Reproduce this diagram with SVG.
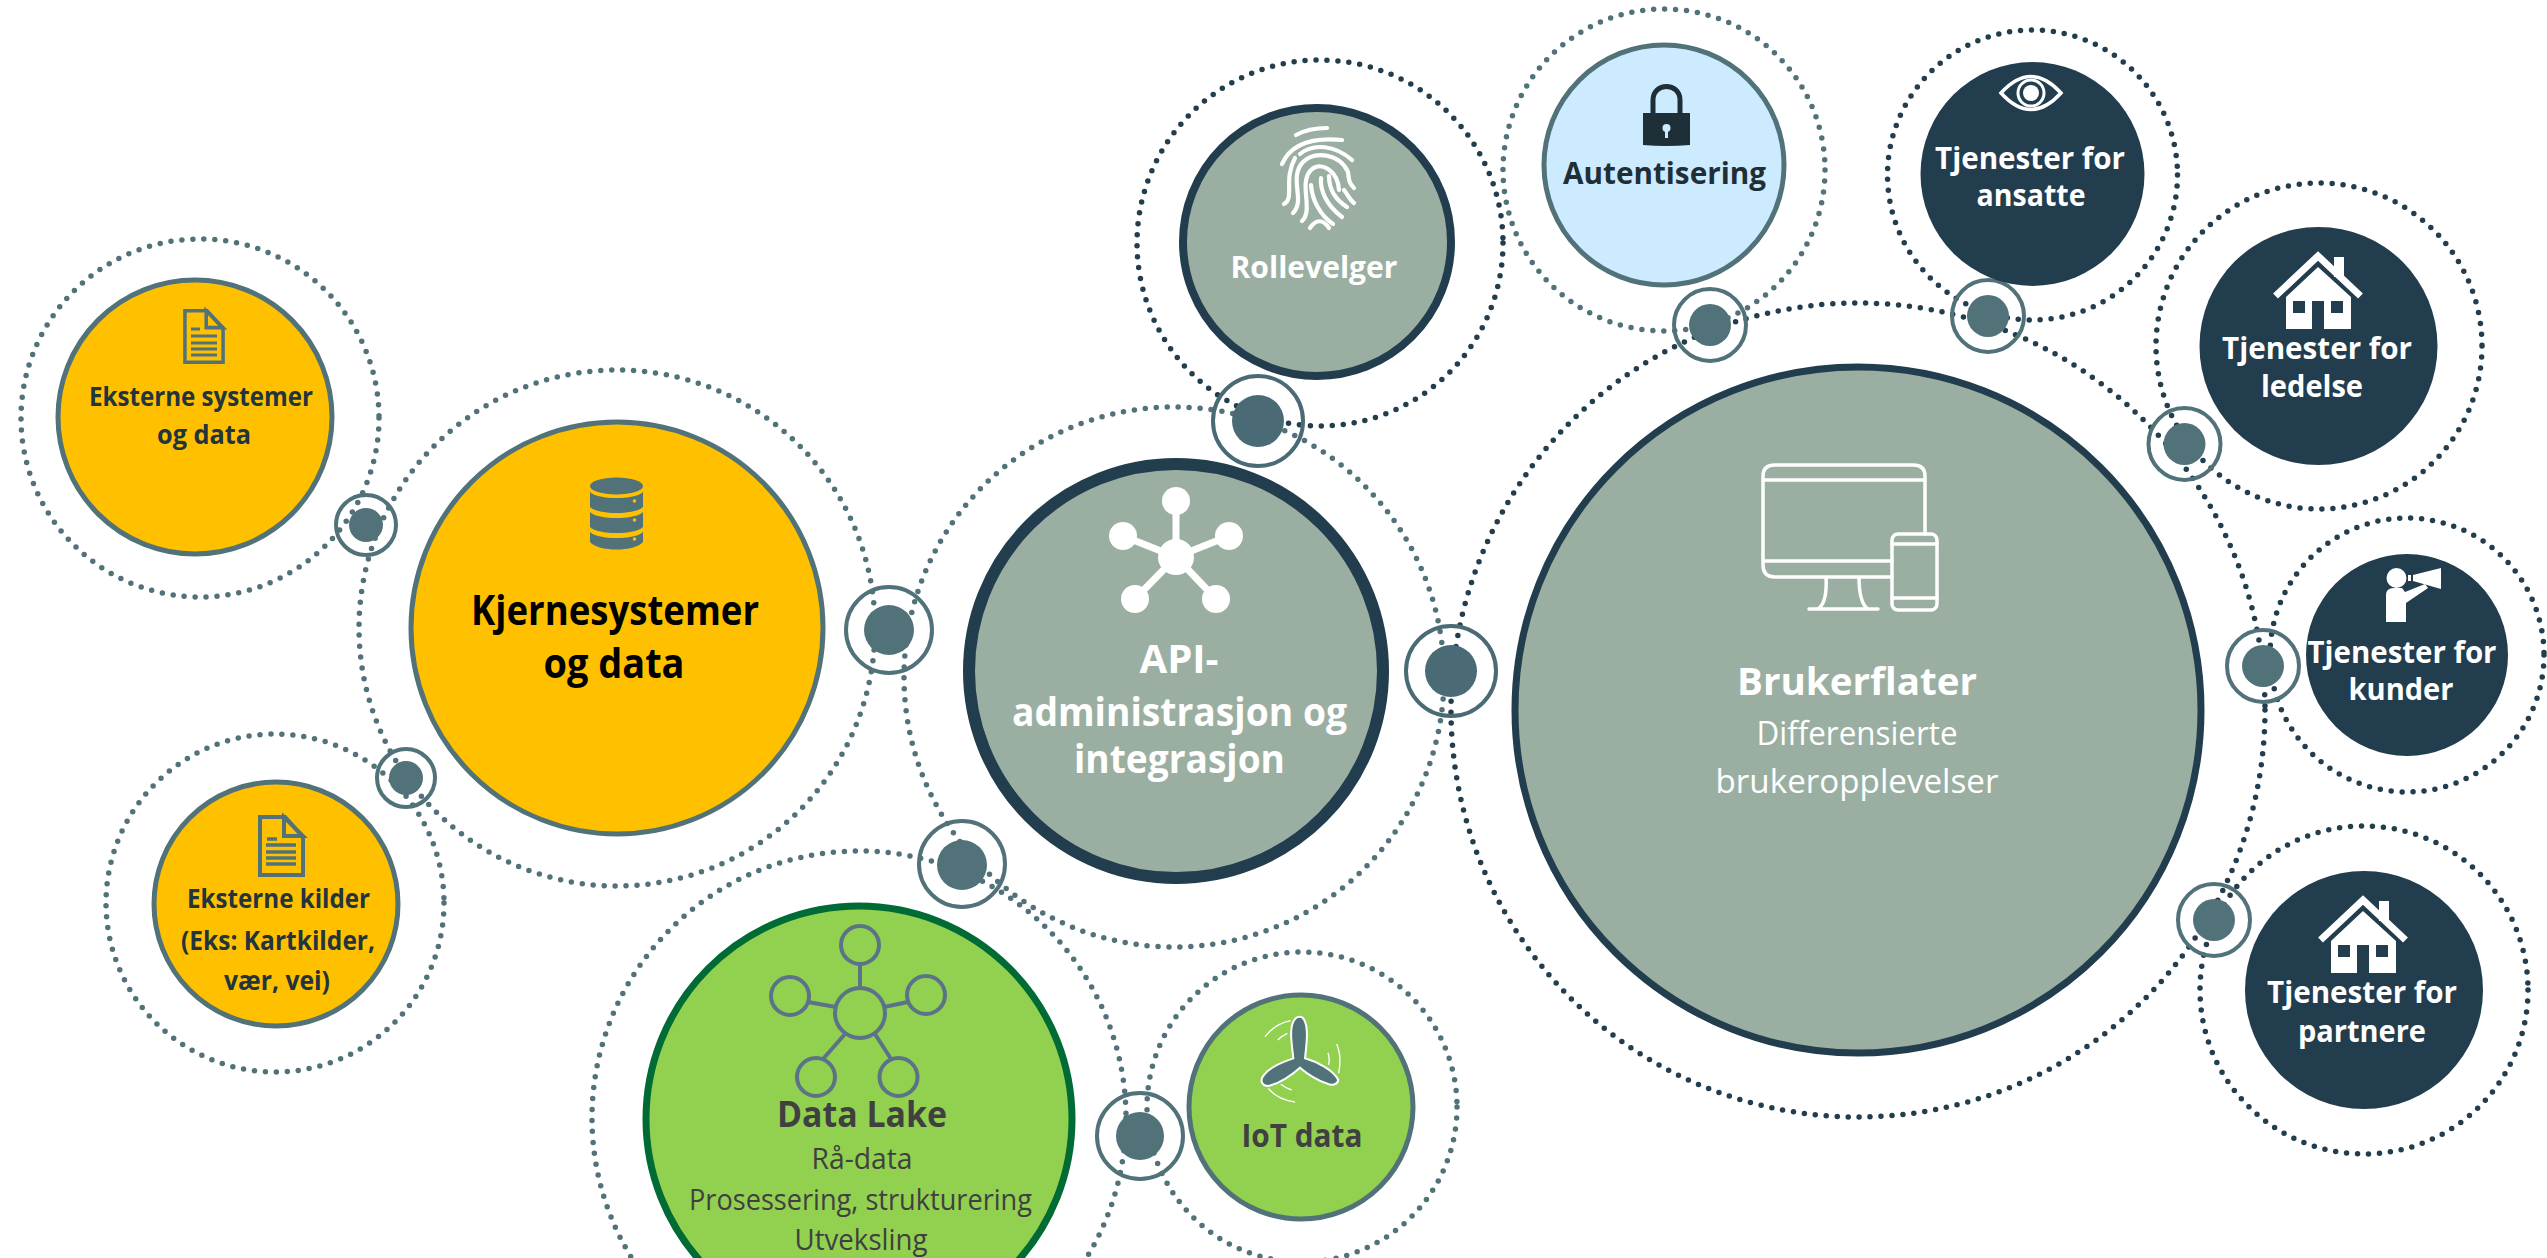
<svg xmlns="http://www.w3.org/2000/svg" xmlns:xlink="http://www.w3.org/1999/xlink" width="2547" height="1258" viewBox="0 0 2547 1258">
<style>
text{font-family:"Open Sans","Noto Sans","Liberation Sans",sans-serif;text-anchor:middle;font-weight:700}
.ring{fill:none;stroke-width:5.500;stroke-linecap:round;stroke-dasharray:0 11}
.t{stroke:#52727A}.d{stroke:#223D4D}
.link{fill:none;stroke:#52727A;stroke-width:4}
.hub{fill:#52727A}
.y{fill:#FFC000;stroke:#52727A;stroke-width:5}
.s{fill:#9AAFA1;stroke:#223D4D}
.n{fill:#223D4D}
.g{fill:#92D050}
.w{fill:#fff}
.ink{fill:#22343D}
.lw{fill:none;stroke:#fff;stroke-linecap:round;stroke-linejoin:round}
.reg{font-weight:400}
</style>
<defs>
<symbol id="house" viewBox="0 0 90 78" overflow="visible">
<path d="M2.500 45L45 5L87.500 45" fill="none" stroke="#fff" stroke-width="7"/>
<rect x="61" y="6" width="10" height="20" fill="#fff"/>
<path fill="#fff" fill-rule="evenodd" d="M13 46L45 16L78 46V78H51V50H39V78H13ZM20 50V62H32V50ZM58 50V62H70V50Z"/>
</symbol>
<symbol id="doc" viewBox="0 0 47 62" overflow="visible">
<path d="M2 2H27L45 22V60H2Z" fill="none" stroke="#52727A" stroke-width="4"/>
<path d="M26 2V21H45Z" fill="none" stroke="#52727A" stroke-width="4"/>
</symbol>
</defs>
<rect width="2547" height="1258" fill="#fff"/>

<g id="connectors">
<circle class="ring t" cx="200" cy="418" r="179"/>
<circle class="ring t" cx="617" cy="628" r="258"/>
<circle class="ring t" cx="275" cy="903" r="169"/>
<circle class="ring t" cx="1174" cy="677" r="270"/>
<circle class="ring d" cx="1320" cy="243" r="183"/>
<circle class="ring t" cx="1664" cy="170" r="161"/>
<circle class="ring d" cx="1858" cy="710" r="407"/>
<circle class="ring d" cx="2032.500" cy="175" r="145"/>
<circle class="ring d" cx="2319" cy="346" r="163"/>
<circle class="ring d" cx="2407" cy="655" r="137"/>
<circle class="ring d" cx="2364" cy="990" r="164"/>
<circle class="ring t" cx="859" cy="1118" r="267"/>
<circle class="ring t" cx="1302" cy="1107" r="155"/>
<g id="link-eksterne-systemer"><circle class="link" cx="366" cy="525" r="30"/><circle class="hub" cx="366" cy="525" r="17"/></g>
<g id="link-kjerne"><circle class="link" cx="889" cy="630" r="43"/><circle class="hub" cx="889" cy="630" r="25"/></g>
<g id="link-eksterne-kilder"><circle class="link" cx="406" cy="778" r="29"/><circle class="hub" cx="406" cy="778" r="17"/></g>
<g id="link-brukerflater"><circle class="link" style="stroke:#4A6A75" cx="1451" cy="671" r="45"/><circle class="hub" style="fill:#4A6A75" cx="1451" cy="671" r="26"/></g>
<g id="link-rollevelger"><circle class="link" style="stroke:#4A6A75" cx="1258" cy="421" r="45"/><circle class="hub" style="fill:#4A6A75" cx="1258" cy="421" r="26"/></g>
<g id="link-autentisering"><circle class="link" cx="1710" cy="325" r="36"/><circle class="hub" cx="1710" cy="325" r="21"/></g>
<g id="link-ansatte"><circle class="link" cx="1988" cy="316" r="36"/><circle class="hub" cx="1988" cy="316" r="21"/></g>
<g id="link-ledelse"><circle class="link" cx="2184.500" cy="444" r="36"/><circle class="hub" cx="2184.500" cy="444" r="21"/></g>
<g id="link-kunder"><circle class="link" cx="2263" cy="666" r="36"/><circle class="hub" cx="2263" cy="666" r="21"/></g>
<g id="link-partnere"><circle class="link" cx="2214" cy="920" r="36"/><circle class="hub" cx="2214" cy="920" r="21"/></g>
<g id="link-datalake"><circle class="link" cx="962" cy="864" r="43"/><circle class="hub" cx="962" cy="865" r="25"/></g>
<g id="link-iot"><circle class="link" cx="1140" cy="1136" r="43"/><circle class="hub" cx="1140" cy="1136" r="24"/></g>
</g>

<g id="node-eksterne-systemer">
<circle class="y" cx="195" cy="417" r="137"/>
<use xlink:href="#doc" href="#doc" x="182" y="309" width="44" height="55"/>
<path d="M191 329h9M191 336h26M191 343h26M191 349h26M191 355h26" stroke="#52727A" stroke-width="3" fill="none"/>
<text class="ink" x="201" y="406" font-size="27" textLength="224" lengthAdjust="spacingAndGlyphs">Eksterne systemer</text>
<text class="ink" x="204" y="444" font-size="27" textLength="94" lengthAdjust="spacingAndGlyphs">og data</text>
</g>

<g id="node-kjernesystemer">
<circle class="y" cx="617" cy="628" r="206"/>
<ellipse cx="616.500" cy="486" rx="26.500" ry="8.500" fill="#52727A"/>
<path fill="#52727A" d="M590 492C598 500 635 500 643 492V507C635 515 598 515 590 507ZM590 512C598 520 635 520 643 512V527C635 535 598 535 590 527ZM590 532C598 540 635 540 643 532V542C635 552 598 552 590 542Z"/>
<circle cx="634.500" cy="501" r="1.800" fill="#FFC000"/><circle cx="634.500" cy="520" r="1.800" fill="#FFC000"/><circle cx="634.500" cy="539" r="1.800" fill="#FFC000"/>
<text x="615" y="625" font-size="42" fill="#000" textLength="288" lengthAdjust="spacingAndGlyphs">Kjernesystemer</text>
<text x="614" y="678" font-size="42" fill="#000" textLength="141" lengthAdjust="spacingAndGlyphs">og data</text>
</g>

<g id="node-eksterne-kilder">
<circle class="y" cx="276" cy="904" r="122"/>
<use xlink:href="#doc" href="#doc" x="258" y="815" width="47" height="62"/>
<path d="M267 839h10M266 845h30M266 852h30M266 858h30M266 864h30" stroke="#52727A" stroke-width="3.500" fill="none"/>
<text class="ink" x="278.500" y="908" font-size="27" textLength="183" lengthAdjust="spacingAndGlyphs">Eksterne kilder</text>
<text class="ink" x="278" y="950" font-size="27" textLength="194" lengthAdjust="spacingAndGlyphs">(Eks: Kartkilder,</text>
<text class="ink" x="277" y="990" font-size="27" textLength="106" lengthAdjust="spacingAndGlyphs">vær, vei)</text>
</g>

<g id="node-api">
<circle class="s" stroke-width="12" cx="1176" cy="671" r="207"/>
<path d="M1176 557V501M1176 557L1123 536M1176 557L1229 536M1176 557L1135 599M1176 557L1216 599" stroke="#fff" stroke-width="7"/>
<circle class="w" cx="1176" cy="557" r="18"/><circle class="w" cx="1176" cy="501" r="14"/><circle class="w" cx="1123" cy="536" r="14"/><circle class="w" cx="1229" cy="536" r="14"/><circle class="w" cx="1135" cy="599" r="14"/><circle class="w" cx="1216" cy="599" r="14"/>
<text class="w" x="1179" y="673" font-size="40" textLength="79" lengthAdjust="spacingAndGlyphs">API-</text>
<text class="w" x="1179.500" y="726" font-size="40" textLength="335" lengthAdjust="spacingAndGlyphs">administrasjon og</text>
<text class="w" x="1179.500" y="773" font-size="40" textLength="211" lengthAdjust="spacingAndGlyphs">integrasjon</text>
</g>

<g id="node-brukerflater">
<circle class="s" stroke-width="7" cx="1858" cy="710" r="343"/>
<g class="lw" stroke-width="3.500">
<path d="M1892 577H1775Q1763 577 1763 565V476Q1763 465 1775 465H1913Q1925 465 1925 476V534M1763 480H1925M1763 561H1892M1826 577C1827 595 1824 605 1818 609M1859 577C1859 595 1862 605 1868 609M1809 609H1878"/>
<rect x="1892" y="534" width="45" height="76" rx="6"/>
<path d="M1892 544H1937M1892 598H1937"/>
</g>
<text class="w" x="1857" y="695" font-size="38" textLength="240" lengthAdjust="spacingAndGlyphs">Brukerflater</text>
<text class="w reg" x="1857" y="745" font-size="32" textLength="201" lengthAdjust="spacingAndGlyphs">Differensierte</text>
<text class="w reg" x="1857" y="793" font-size="32" textLength="283" lengthAdjust="spacingAndGlyphs">brukeropplevelser</text>
</g>

<g id="node-rollevelger">
<circle class="s" stroke-width="8" cx="1317" cy="242" r="134"/>
<g class="lw" stroke-width="4.200">
<path d="M1296 135C1305 130 1316 128 1327 128"/>
<path d="M1282 164C1290 146 1310 137 1342 140"/>
<path d="M1300 154C1313 143 1335 145 1352 160"/>
<path d="M1284 204C1295 198 1283 180 1295 158"/>
<path d="M1293 213C1306 200 1288 178 1303 162C1315 150 1340 154 1348 172C1349 182 1350 184 1354 188"/>
<path d="M1302 221C1314 210 1298 183 1311 170C1322 160 1338 172 1339 190"/>
<path d="M1321 178C1320 190 1326 205 1342 217"/>
<path d="M1311 185C1312 200 1320 215 1333 224"/>
<path d="M1329 176C1329 190 1336 200 1347 207"/>
<path d="M1344 190C1348 195 1350 200 1354 203"/>
<path d="M1310 228C1316 219 1323 219 1329 228"/>
</g>
<text class="w" x="1314" y="278" font-size="31" textLength="167" lengthAdjust="spacingAndGlyphs">Rollevelger</text>
</g>

<g id="node-autentisering">
<circle cx="1664" cy="165" r="120" fill="#CCEBFF" stroke="#52727A" stroke-width="5"/>
<path d="M1653 114V100C1653 82 1680 82 1680 100V114" fill="none" stroke="#1F2F38" stroke-width="5"/>
<path fill="#1F2F38" d="M1643 113H1690V145Q1666 147 1643 145Z"/>
<circle cx="1666.500" cy="128" r="4" fill="#CCEBFF"/><rect x="1665" y="129" width="3" height="9" fill="#CCEBFF"/>
<text class="ink" x="1664.500" y="184" font-size="31" style="fill:#1F2F38" textLength="203" lengthAdjust="spacingAndGlyphs">Autentisering</text>
</g>

<g id="node-ansatte">
<circle class="n" cx="2032.500" cy="174" r="112"/>
<path d="M2001 93Q2031 60 2061 93Q2031 126 2001 93Z" fill="none" stroke="#fff" stroke-width="3.500"/>
<circle cx="2031" cy="93" r="13" fill="none" stroke="#fff" stroke-width="3"/>
<circle class="w" cx="2031" cy="93" r="8"/>
<text class="w" x="2030" y="169" font-size="31" textLength="190" lengthAdjust="spacingAndGlyphs">Tjenester for</text>
<text class="w" x="2031" y="206" font-size="31" textLength="109" lengthAdjust="spacingAndGlyphs">ansatte</text>
</g>

<g id="node-ledelse">
<circle class="n" cx="2318.500" cy="346" r="119"/>
<use xlink:href="#house" href="#house" x="2273" y="251" width="90" height="78"/>
<text class="w" x="2317" y="359" font-size="31" textLength="190" lengthAdjust="spacingAndGlyphs">Tjenester for</text>
<text class="w" x="2312" y="397" font-size="31" textLength="102" lengthAdjust="spacingAndGlyphs">ledelse</text>
</g>

<g id="node-kunder">
<circle class="n" cx="2407" cy="655" r="101"/>
<circle class="w" cx="2396.500" cy="578" r="10"/>
<path class="w" d="M2386 622V595Q2386 588 2394 588H2402L2405 592L2425 584L2428 588L2406 603V622Z"/>
<path class="w" d="M2413 575L2441 568V589L2413 581ZM2408 575H2411V581H2408Z"/>
<text class="w" x="2402" y="663" font-size="31" textLength="189" lengthAdjust="spacingAndGlyphs">Tjenester for</text>
<text class="w" x="2401" y="700" font-size="31" textLength="105" lengthAdjust="spacingAndGlyphs">kunder</text>
</g>

<g id="node-partnere">
<circle class="n" cx="2364" cy="990" r="119"/>
<use xlink:href="#house" href="#house" x="2318" y="895" width="90" height="78"/>
<text class="w" x="2362" y="1003" font-size="31" textLength="190" lengthAdjust="spacingAndGlyphs">Tjenester for</text>
<text class="w" x="2362" y="1042" font-size="31" textLength="128" lengthAdjust="spacingAndGlyphs">partnere</text>
</g>

<g id="node-datalake">
<circle class="g" stroke="#006B35" stroke-width="7" cx="859" cy="1119" r="213"/>
<g fill="none" stroke="#5B7388" stroke-width="4">
<circle cx="860" cy="1013" r="25"/><circle cx="860" cy="945" r="19"/><circle cx="790" cy="996" r="19"/><circle cx="926" cy="995" r="19"/><circle cx="816" cy="1077" r="19"/><circle cx="898.500" cy="1077" r="19"/>
<path d="M860 964V988M808 1002L836 1007M908 1002L884 1007M823 1059L845 1034M891 1059L875 1034"/>
</g>
<text x="862" y="1127" font-size="36" fill="#404040" textLength="170" lengthAdjust="spacingAndGlyphs">Data Lake</text>
<text class="reg" x="862" y="1169" font-size="30" fill="#404040" textLength="101" lengthAdjust="spacingAndGlyphs">Rå-data</text>
<text class="reg" x="860.500" y="1210" font-size="30" fill="#404040" textLength="343" lengthAdjust="spacingAndGlyphs">Prosessering, strukturering</text>
<text class="reg" x="861" y="1250" font-size="30" fill="#404040" textLength="133" lengthAdjust="spacingAndGlyphs">Utveksling</text>
</g>

<g id="node-iot">
<circle class="g" stroke="#52727A" stroke-width="5" cx="1301" cy="1107" r="112"/>
<g transform="translate(1250 1000) scale(.3333)">
<path d="M130 175C125 130 118 90 130 65C140 45 158 45 165 65C175 90 170 130 165 175C200 185 250 210 265 240C262 255 245 258 230 250C200 240 170 220 150 203C125 225 90 250 55 258C35 258 28 240 42 225C60 200 100 185 130 175Z" fill="#52727A" stroke="#fff" stroke-width="6"/>
<path d="M45 110C65 85 90 68 122 62M83 120Q95 108 112 100M260 132C272 160 272 190 266 220M234 158Q240 175 236 195M55 265C75 290 105 302 135 306M92 253Q108 265 125 270" fill="none" stroke="#fff" stroke-width="4"/>
</g>
<text x="1302" y="1147" font-size="32" fill="#404040" textLength="121" lengthAdjust="spacingAndGlyphs">IoT data</text>
</g>
</svg>
